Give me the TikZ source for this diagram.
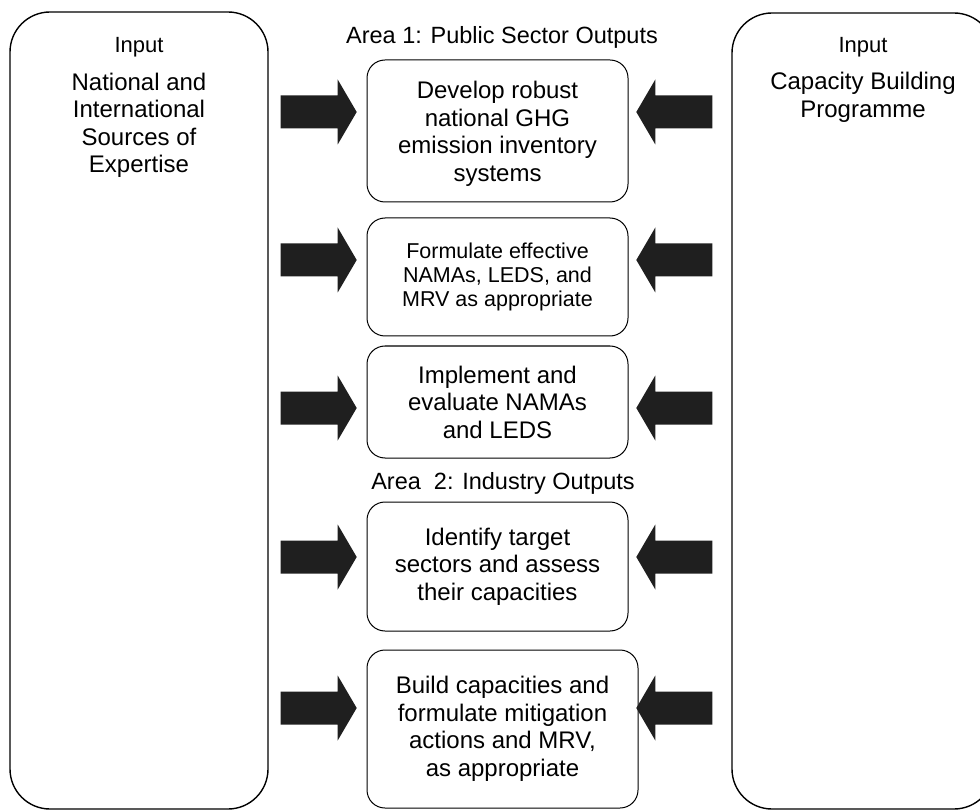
\documentclass[tikz,border=0pt]{standalone}
\usepackage{fontspec}
\setmainfont{Liberation Sans}
\usetikzlibrary{calc}

% block arrow: #1 = tip, #2 = 1 (points right) or -1 (points left)
\newcommand{\blockarrow}[2]{%
  \fill[arrowfill] (#1) -- ++({-19*#2},-32.5) -- ++(0,16) -- ++({-57*#2},0)
    -- ++(0,33) -- ++({57*#2},0) -- ++(0,16) -- cycle;}

\begin{document}
\begin{tikzpicture}[x=1pt,y=-1pt,
  bigbox/.style={draw,line width=1.4pt,rounded corners=40pt,inner sep=0pt},
  outbox/.style={draw,line width=1pt,rounded corners=18pt,inner sep=0pt,
    minimum width=261pt,align=center,font=\fontsize{24}{27.5}\selectfont},
  headtxt/.style={inner sep=0pt,font=\fontsize{22}{26}\selectfont},
  bodytxt/.style={inner sep=0pt,align=center,font=\fontsize{24}{27.5}\selectfont},
  areatxt/.style={inner sep=0pt,font=\fontsize{23.5}{26}\selectfont},
  arrowfill/.style={fill=black!88}]
\useasboundingbox (0,0) rectangle (980,810);
\clip (0,0) rectangle (980,810);

% input columns
\node[bigbox,minimum width=258pt,minimum height=797pt] (inL) at (139,410.5) {};
\node[bigbox,minimum width=262pt,minimum height=796pt] (inR) at (863,411) {};
\node[headtxt] (inLhead) at ($(inL.north)+(0,36)$) {Input};
\node[bodytxt] (inLbody) at ($(inL.north)+(0,114)$) {National and\\International\\Sources of\\Expertise};
\node[headtxt] (inRhead) at ($(inR.north)+(0,35)$) {Input};
\node[bodytxt] (inRbody) at ($(inR.north)+(0,85)$) {Capacity Building\\Programme};

% area 1
\node[areatxt] (area1) at (502,37) {Area 1: Public Sector Outputs};
\node[outbox,minimum height=142pt] (out1) at (497.5,131) {};
\node[bodytxt] (out1txt) at ($(out1.center)+(0,3)$) {Develop robust\\national GHG\\emission inventory\\systems};
\node[outbox,minimum height=118pt,font=\fontsize{21.5}{24}\selectfont] (out2) at (497.5,277) {Formulate effective\\NAMAs, LEDS, and\\MRV as appropriate};
\node[outbox,minimum height=112pt] (out3) at (497.5,402) {Implement and\\evaluate NAMAs\\and LEDS};

% area 2
\node[areatxt] (area2) at (503,483) {Area\ \ 2: Industry Outputs};
\node[outbox,minimum height=129pt] (out4) at (497.5,566.5) {Identify target\\sectors and assess\\their capacities};
\node[outbox,minimum height=158pt,minimum width=271pt] (out5) at (502.5,729) {Build capacities and\\formulate mitigation\\actions and MRV,\\as appropriate};

% arrows from both inputs
\foreach \b/\y in {out1/112,out2/260,out3/408,out4/557,out5/708}{
  \coordinate (tipL-\b) at ($(inL.east |- 0,\y)+(88,0)$);
  \coordinate (tipR-\b) at ($(inR.west |- 0,\y)+(-95,0)$);
  \blockarrow{tipL-\b}{1}
  \blockarrow{tipR-\b}{-1}
}
\end{tikzpicture}
\end{document}
